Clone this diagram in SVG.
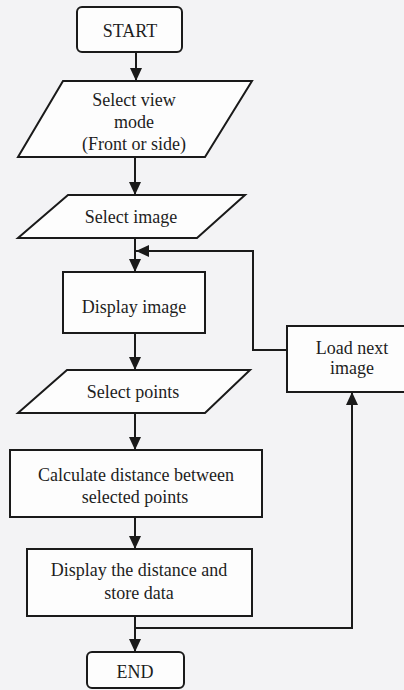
<svg xmlns="http://www.w3.org/2000/svg" width="404" height="690" viewBox="0 0 404 690">
<defs>
<style>
.s{fill:#fdfdfd;stroke:#1a1a1a;stroke-width:2}
.t{font-family:"Liberation Serif","Times New Roman",serif;font-size:18px;fill:#1e1e1e;text-anchor:middle}
.c{fill:none;stroke:#1a1a1a;stroke-width:2}
</style>
<marker id="ah" markerWidth="13" markerHeight="12" refX="13" refY="6" orient="auto" markerUnits="userSpaceOnUse">
<path d="M0,0 L13,6 L0,12 Z" fill="#1a1a1a"/>
</marker>
</defs>
<rect width="404" height="690" fill="#f3f3f5"/>
<g id="connectors">
<line class="c" x1="136" y1="52" x2="136" y2="81" marker-end="url(#ah)"/>
<line class="c" x1="135" y1="157" x2="135" y2="195" marker-end="url(#ah)"/>
<line class="c" x1="135" y1="238" x2="135" y2="272" marker-end="url(#ah)"/>
<polyline class="c" points="287,350 253,350 253,251 136,251" marker-end="url(#ah)"/>
<line class="c" x1="135" y1="333" x2="135" y2="370" marker-end="url(#ah)"/>
<line class="c" x1="135" y1="413" x2="135" y2="450" marker-end="url(#ah)"/>
<line class="c" x1="135" y1="517" x2="135" y2="549" marker-end="url(#ah)"/>
<line class="c" x1="135" y1="616" x2="135" y2="652" marker-end="url(#ah)"/>
<polyline class="c" points="135,628 352,628 352,392" marker-end="url(#ah)"/>
</g>
<g id="start">
<rect class="s" x="77" y="7" width="105" height="45" rx="5"/>
<text class="t" x="130" y="37">START</text>
</g>
<g id="select-view-mode">
<polygon class="s" points="63,81 252,81 205,157 18,157"/>
<text class="t" x="134" y="106">Select view</text>
<text class="t" x="134" y="128">mode</text>
<text class="t" x="134" y="150">(Front or side)</text>
</g>
<g id="select-image">
<polygon class="s" points="68,195 245,195 197,238 18,238"/>
<text class="t" x="131" y="223">Select image</text>
</g>
<g id="display-image">
<rect class="s" x="63" y="272" width="142" height="61"/>
<text class="t" x="134" y="313">Display image</text>
</g>
<g id="load-next-image">
<rect class="s" x="287" y="326" width="130" height="66"/>
<text class="t" x="352" y="354">Load next</text>
<text class="t" x="352" y="374">image</text>
</g>
<g id="select-points">
<polygon class="s" points="67,370 250,370 205,413 18,413"/>
<text class="t" x="133" y="398">Select points</text>
</g>
<g id="calculate-distance">
<rect class="s" x="10" y="450" width="252" height="67"/>
<text class="t" x="136" y="481">Calculate distance between</text>
<text class="t" x="135" y="503">selected points</text>
</g>
<g id="display-distance">
<rect class="s" x="27" y="549" width="225" height="67"/>
<text class="t" x="139" y="576">Display the distance and</text>
<text class="t" x="139" y="599">store data</text>
</g>
<g id="end">
<rect class="s" x="87" y="652" width="97" height="36" rx="5"/>
<text class="t" x="135" y="678">END</text>
</g>
</svg>
